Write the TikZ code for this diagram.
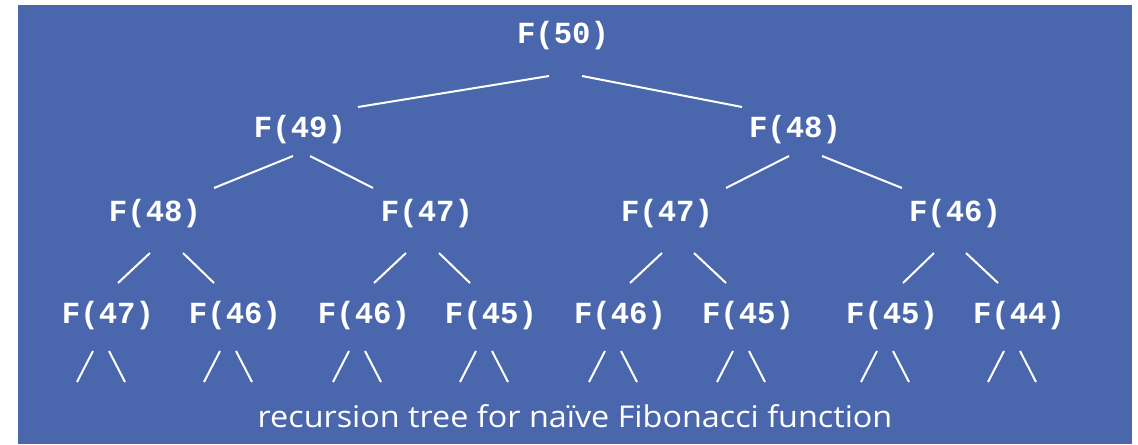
\documentclass[tikz,border=0pt]{standalone}
\usepackage{fontspec}
\setmonofont{Liberation Mono}
\newfontfamily\captionface{Open Sans}
\definecolor{slideblue}{HTML}{4A67AD}
\begin{document}
\begin{tikzpicture}[x=0.75pt,y=-0.75pt,
  fn/.style={font=\ttfamily\bfseries\fontsize{23}{27}\selectfont, text=white, anchor=base, inner sep=0pt},
  link/.style={draw=white, line width=1.5pt},
  captext/.style={font=\captionface\fontsize{22.5}{27}\selectfont, text=white, anchor=base, inner sep=0pt}]
  \useasboundingbox (0,0) rectangle (1138,444);
  \fill[slideblue] (18,5) rectangle (1132,444);

  % calls, level by level
  \node[fn] (r)   at (563,43)  {F(50)};
  \node[fn] (a)   at (300,137) {F(49)};
  \node[fn] (b)   at (795,137) {F(48)};
  \node[fn] (aa)  at (155,221) {F(48)};
  \node[fn] (ab)  at (427,221) {F(47)};
  \node[fn] (ba)  at (667,221) {F(47)};
  \node[fn] (bb)  at (955,221) {F(46)};
  \node[fn] (aaa) at (108,323) {F(47)};
  \node[fn] (aab) at (235,323) {F(46)};
  \node[fn] (aba) at (364,323) {F(46)};
  \node[fn] (abb) at (491,323) {F(45)};
  \node[fn] (baa) at (620,323) {F(46)};
  \node[fn] (bab) at (748,323) {F(45)};
  \node[fn] (bba) at (892,323) {F(45)};
  \node[fn] (bbb) at (1019,323) {F(44)};

  % root to level 2
  \draw[link] ([shift={(-14,33)}]r.base) -- ([shift={(58,-30)}]a.base);
  \draw[link] ([shift={(19,33)}]r.base) -- ([shift={(-53,-30)}]b.base);

  % level 2 to level 3
  \draw[link] ([shift={(-7,19)}]a.base) -- ([shift={(59,-33)}]aa.base);
  \draw[link] ([shift={(10,19)}]a.base) -- ([shift={(-54,-33)}]ab.base);
  \draw[link] ([shift={(-6,19)}]b.base) -- ([shift={(59,-33)}]ba.base);
  \draw[link] ([shift={(27,19)}]b.base) -- ([shift={(-53,-33)}]bb.base);

  % level 3 to level 4
  \draw[link] ([shift={(-5,32)}]aa.base) -- ([shift={(10,-40)}]aaa.base);
  \draw[link] ([shift={(28,32)}]aa.base) -- ([shift={(-21,-40)}]aab.base);
  \draw[link] ([shift={(-21,32)}]ab.base) -- ([shift={(10,-40)}]aba.base);
  \draw[link] ([shift={(12,32)}]ab.base) -- ([shift={(-21,-40)}]abb.base);
  \draw[link] ([shift={(-5,32)}]ba.base) -- ([shift={(10,-40)}]baa.base);
  \draw[link] ([shift={(27,32)}]ba.base) -- ([shift={(-22,-40)}]bab.base);
  \draw[link] ([shift={(-21,32)}]bb.base) -- ([shift={(11,-40)}]bba.base);
  \draw[link] ([shift={(11,32)}]bb.base) -- ([shift={(-21,-40)}]bbb.base);

  % further calls left open below the last level
  \foreach \n in {aaa,aab,aba,abb,baa,bab,bba,bbb} {
    \draw[link] ([shift={(-15,28)}]\n.base) -- ([shift={(-31,59)}]\n.base);
    \draw[link] ([shift={(1,28)}]\n.base) -- ([shift={(17,59)}]\n.base);
  }

  \node[captext] (cap) at (575,427) {\resizebox{476pt}{\height}{recursion tree for naïve Fibonacci function}};
\end{tikzpicture}
\end{document}
